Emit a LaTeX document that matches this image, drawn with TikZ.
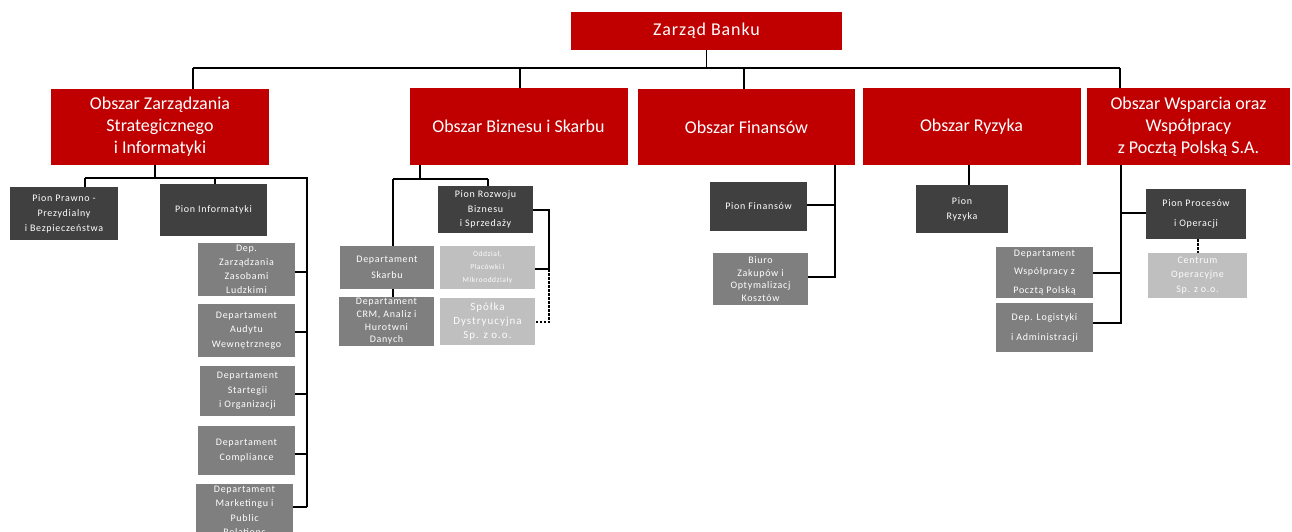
\documentclass[tikz,border=0pt]{standalone}
\usepackage{fontspec}
\setmainfont{Carlito}
\newfontfamily\fsp{Carlito}[LetterSpace=7]
\newfontfamily\fwide{Carlito}[LetterSpace=9]
\newfontfamily\fzb{Carlito}[LetterSpace=5]
\definecolor{bred}{HTML}{C00000}
\definecolor{dgray}{HTML}{404040}
\definecolor{mgray}{HTML}{7F7F7F}
\definecolor{lgray}{HTML}{BFBFBF}
\tikzset{
  base/.style={inner sep=0pt, outer sep=0pt, align=center, text=white},
  redbox/.style={base, fill=bred, font=\fontsize{18}{22}\selectfont},
  darkbox/.style={base, fill=dgray, font=\fsp\fontsize{10}{15}\selectfont},
  medbox/.style={base, fill=mgray, font=\fsp\fontsize{10}{14.5}\selectfont},
  lightbox/.style={base, fill=lgray, text=white!96!lgray, font=\fwide\fontsize{10}{14}\selectfont},
  conn/.style={line width=1.3pt, black},
  dconn/.style={conn, dash pattern=on 2.5pt off 1.5pt},
  sz/.style 2 args={minimum width=#1pt, minimum height=#2pt},
}
\begin{document}
\begin{tikzpicture}[x=1pt,y=-1pt]
\useasboundingbox (0,0) rectangle (1292,531);
\clip (0,0) rectangle (1292,531);
% top
\node[redbox, sz={271}{38}, font=\fzb\fontsize{18}{20}\selectfont] (zarzad) at (706.5,31) {Zarząd Banku};
% areas
\node[redbox, sz={218}{76}] (oz) at (160,127) {Obszar Zarządzania\\Strategicznego\\i Informatyki};
\node[redbox, sz={218}{77}] (ob) at (518.5,126.5) {Obszar Biznesu i Skarbu};
\node[redbox, sz={217}{76}] (of) at (746.5,127) {Obszar Finansów};
\node[redbox, sz={218}{77}] (oryz) at (971.5,126.5) {Obszar Ryzyka};
\node[redbox, sz={203}{77}] (ow) at (1188.5,126.5) {Obszar Wsparcia oraz\\Współpracy\\z Pocztą Polską S.A.};
% bus
\coordinate (busL) at (193,68);
\coordinate (busB) at (520,68);
\coordinate (busF) at (744,68);
\coordinate (busR) at (1120,68);
\draw[conn] (zarzad.south) -- (zarzad.south |- busL);
\draw[conn] (busL) -- (busR);
\draw[conn] (busL) -- (busL |- oz.north);
\draw[conn] (busB) -- (busB |- ob.north);
\draw[conn] (busF) -- (busF |- of.north);
\draw[conn] (busR) -- (busR |- ow.north);

% ---- Obszar Zarzadzania
\node[darkbox, sz={108}{53}] (prawno) at (64,213.5) {Pion Prawno -\\Prezydialny\\i Bezpieczeństwa};
\node[darkbox, sz={107}{52}] (pinf) at (213.5,210) {Pion Informatyki};
\node[medbox, sz={97}{53}, font=\fsp\fontsize{10}{14}\selectfont] (depzz) at (246.5,269.5) {Dep.\\Zarządzania\\Zasobami\\Ludzkimi};
\node[medbox, sz={97}{53}] (audyt) at (246.5,330.5) {Departament\\Audytu\\Wewnętrznego};
\node[medbox, sz={95}{50}] (strat) at (247.5,391) {Departament\\Startegii\\i Organizacji};
\node[medbox, sz={97}{49}] (compl) at (246.5,450.5) {Departament\\Compliance};
\node[medbox, sz={97}{54}, font=\fsp\fontsize{10}{14.5}\selectfont] (mark) at (244.5,511) {Departament\\Marketingu i\\Public\\Relations};
\coordinate (zl) at (85,178);
\coordinate (zc) at (155,178);
\coordinate (zm) at (215,178);
\coordinate (zr) at (307,178);
\coordinate (zb) at (307,507);
\draw[conn] (oz.south -| zc) -- (zc);
\draw[conn] (zl) -- (zr) -- (zb);
\draw[conn] (zl) -- (zl |- prawno.north);
\draw[conn] (zm) -- (zm |- pinf.north);
\draw[conn] (depzz.east |- 0,272) -- (zr |- 0,272);
\draw[conn] (audyt.east |- 0,332) -- (zr |- 0,332);
\draw[conn] (strat.east |- 0,394) -- (zr |- 0,394);
\draw[conn] (compl.east |- 0,454) -- (zr |- 0,454);
\draw[conn] (mark.east |- zb) -- (zb);

% ---- Obszar Biznesu
\node[darkbox, sz={95}{47}, font=\fsp\fontsize{10}{14.5}\selectfont] (rozw) at (485.5,209.5) {Pion Rozwoju\\Biznesu\\i Sprzedaży};
\node[medbox, sz={94}{43}, font=\fsp\fontsize{10}{16}\selectfont] (skarb) at (387,267.5) {Departament\\Skarbu};
\node[medbox, sz={95}{49}, font=\fsp\fontsize{10}{12.7}\selectfont] (crm) at (386.5,321.5) {Departament\\CRM, Analiz i\\Hurotwni\\Danych};
\node[lightbox, sz={95}{43}, font=\fsp\fontsize{7.5}{13}\selectfont] (oddz) at (487.5,267.5) {Oddział,\\Placówki i\\Mikrooddziały};
\node[lightbox, sz={95}{47}, font=\fwide\fontsize{11}{14}\selectfont] (spol) at (487.5,321.5) {Spółka\\Dystryucyjna\\Sp. z o.o.};
\coordinate (bc) at (420,179);
\coordinate (bl) at (393,179);
\coordinate (br) at (488,179);
\coordinate (bx1) at (549,210);
\coordinate (bx2) at (549,269);
\coordinate (bx3) at (549,322);
\draw[conn] (ob.south -| bc) -- (bc);
\draw[conn] (bl) -- (br);
\draw[conn] (bl) -- (bl |- skarb.north);
\draw[conn] (br) -- (br |- rozw.north);
\draw[conn] (skarb.south -| bl) -- (crm.north -| bl);
\draw[conn] (rozw.east |- bx1) -- (bx1) -- (bx2) -- (oddz.east |- bx2);
\draw[dconn] (bx2) -- (bx3) -- (spol.east |- bx3);

% ---- Obszar Finansow
\node[darkbox, sz={97}{49}] (pfin) at (758.5,206.5) {Pion Finansów};
\node[medbox, sz={95}{52}, font=\fsp\fontsize{10}{12.5}\selectfont] (biuro) at (760.5,279) {Biuro\\Zakupów i\\Optymalizacj\\Kosztów};
\coordinate (fv) at (835,277);
\draw[conn] (of.south -| fv) -- (fv) -- (biuro.east |- fv);
\draw[conn] (pfin.east |- 0,205) -- (fv |- 0,205);

% ---- Obszar Ryzyka
\node[darkbox, sz={92}{48}] (pryz) at (962,209) {Pion\\Ryzyka};
\draw[conn] (oryz.south -| 969,0) -- (pryz.north -| 969,0);

% ---- Obszar Wsparcia
\node[darkbox, sz={100}{50}, font=\fsp\fontsize{10}{20}\selectfont] (pproc) at (1196,214) {Pion Procesów\\i Operacji};
\node[lightbox, sz={99}{45}, font=\fsp\fontsize{10}{14.5}\selectfont] (centr) at (1197.5,275.5) {Centrum\\Operacyjne\\Sp. z o.o.};
\node[medbox, sz={97}{51}, font=\fsp\fontsize{10}{18.5}\selectfont] (dwsp) at (1044.5,272.5) {Departament\\Współpracy z\\Pocztą Polską};
\node[medbox, sz={97}{49}, font=\fsp\fontsize{10}{20}\selectfont] (dlog) at (1044.5,327.5) {Dep. Logistyki\\i Administracji};
\coordinate (wv) at (1121,323);
\draw[conn] (ow.south -| wv) -- (wv) -- (dlog.east |- wv);
\draw[conn] (dwsp.east |- 0,273) -- (wv |- 0,273);
\draw[conn] (wv |- 0,213) -- (pproc.west |- 0,213);
\draw[dconn] (pproc.south -| 1198,0) -- (centr.north -| 1198,0);
\end{tikzpicture}
\end{document}
